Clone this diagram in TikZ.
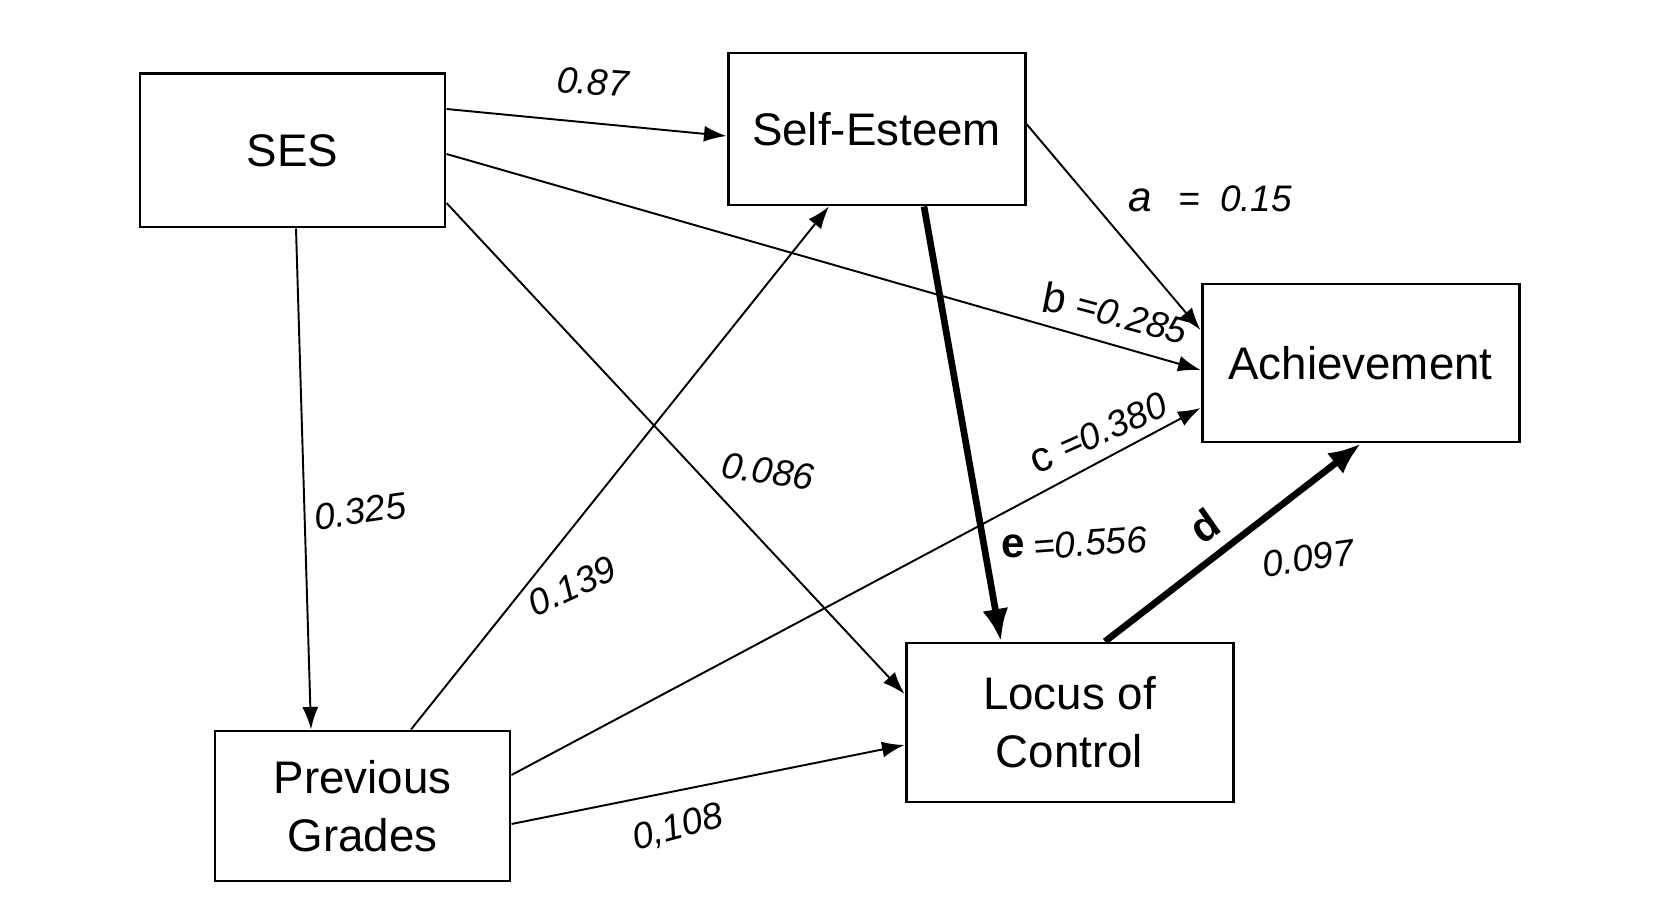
\documentclass[tikz,border=0pt]{standalone}
\usepackage{fontspec}
\setmainfont{Liberation Sans}
\usetikzlibrary{arrows.meta,calc}
\begin{document}
\begin{tikzpicture}[
  box/.style={draw, line width=1.7pt, inner sep=0pt, align=center, font=\fontsize{26}{33}\selectfont},
  arr/.style={line width=1.1pt, -{Latex[length=0.45cm,width=0.32cm]}},
  thickarr/.style={line width=3.8pt, -{Latex[length=0.65cm,width=0.52cm]}},
  hand/.style={font=\fontsize{21}{21}\selectfont\itshape, inner sep=0pt},
  letter/.style={inner sep=0pt, font=\fontsize{24}{24}\selectfont}
]
\useasboundingbox (0,0) rectangle (33.22,-18.14);
\fill[white] (0,0) rectangle (33.22,-18.14);

\node[box, minimum width=6.10cm, minimum height=3.06cm] (ses) at (5.85,-3.01) {SES};
\node[box, minimum width=5.94cm, minimum height=3.04cm] (se) at (17.53,-2.58) {Self-Esteem};
\node[box, minimum width=6.34cm, minimum height=3.16cm] (ach) at (27.21,-7.26) {Achievement};
\node[box, minimum width=6.54cm, minimum height=3.18cm] (loc) at (21.39,-14.45) {Locus of\\Control};
\node[box, minimum width=5.90cm, minimum height=3.00cm] (pg) at (7.25,-16.12) {Previous\\Grades};

% connectors
\draw[arr] ([yshift=0.83cm]ses.east) -- ([yshift=-0.14cm]se.west);
\draw[arr] ([yshift=-0.07cm]ses.east) -- ([yshift=-0.14cm]ach.west);
\draw[arr] ([yshift=-1.05cm]ses.east) -- ([yshift=0.57cm]loc.west);
\draw[arr] ([xshift=0.07cm]ses.south) -- ([xshift=-1.03cm]pg.north);
\draw[arr] ([xshift=0.97cm]pg.north) -- ([xshift=-0.95cm]se.south);
\draw[arr] ([yshift=0.62cm]pg.east) -- ([yshift=-0.90cm]ach.west);
\draw[arr] ([yshift=-0.36cm]pg.east) -- ([yshift=-0.45cm]loc.west);
\draw[arr] ([yshift=0.10cm]se.east) -- ([yshift=0.66cm]ach.west);
\draw[thickarr] ([xshift=0.95cm]se.south) -- ([xshift=-1.37cm]loc.north);
\draw[thickarr] ([xshift=0.71cm]loc.north) -- ([xshift=0.01cm]ach.south);

% labels
\node[hand, rotate=-4] (l87) at (11.86,-1.64) {0.87};
\node[letter, font=\fontsize{24}{24}\selectfont\itshape] (la) at (22.80,-4.00) {a};
\node[hand] (lav) at (24.70,-3.98) {=\ \ 0.15};
\node[letter, font=\fontsize{24}{24}\selectfont\itshape] (lb) at (21.08,-5.95) {b};
\node[hand, rotate=-15] (lbv) at (22.64,-6.36) {=0.285};
\node[letter, rotate=22] (lc) at (20.84,-9.20) {c};
\node[hand, rotate=24] (lcv) at (22.26,-8.52) {=0.380};
\node[hand, rotate=-8] (l086) at (15.36,-9.42) {0.086};
\node[hand, rotate=8] (l325) at (7.20,-10.22) {0.325};
\node[hand, rotate=25] (l139) at (11.44,-11.72) {0.139};
\node[letter, font=\fontsize{24}{24}\selectfont\bfseries] (le) at (20.26,-10.92) {e};
\node[hand, rotate=4] (lev) at (21.80,-10.86) {=0.556};
\node[letter, rotate=35, font=\fontsize{24}{24}\selectfont\bfseries] (ld) at (24.08,-10.52) {d};
\node[hand, rotate=8] (l097) at (26.16,-11.16) {0.097};
\node[hand, rotate=15] (l108) at (13.56,-16.56) {0,108};
\end{tikzpicture}
\end{document}
